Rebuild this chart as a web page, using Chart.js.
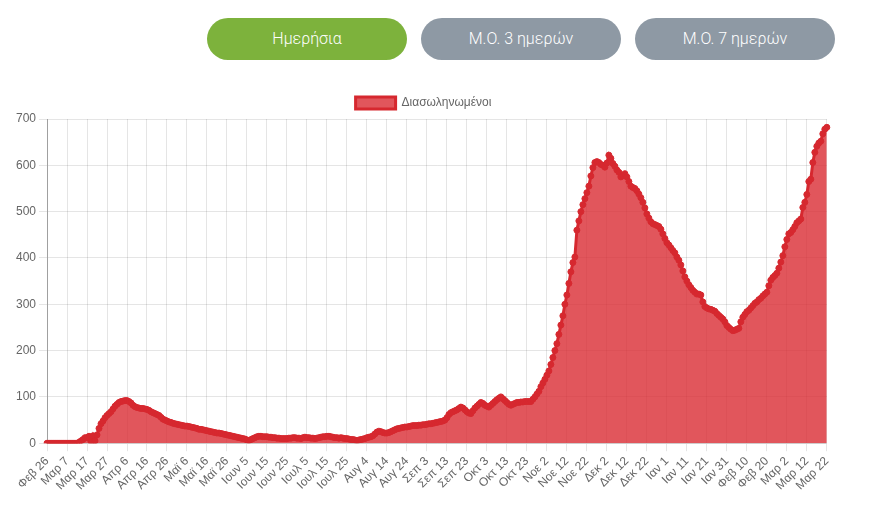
<!DOCTYPE html>
<html>
<head>
<meta charset="utf-8">
<script src="https://cdn.jsdelivr.net/npm/chart.js@4.4.1/dist/chart.umd.min.js"></script>
<style>
  body { margin: 0; width: 880px; height: 529px; background: #fff; overflow: hidden; position: relative; }
  .btn {
    position: absolute; top: 18px; width: 200px; height: 42px; border-radius: 21px;
    color: #fff; font-family: Roboto, sans-serif; font-size: 16px; font-weight: 300;
    line-height: 42px; text-align: center;
  }
  .btn.active { background: #7db23c; }
  .btn.off { background: #8e99a4; }
  #wrap { position: absolute; left: 0; top: 87px; width: 840px; height: 409px; }
</style>
</head>
<body>
<div class="btn active" style="left:207px">Ημερήσια</div>
<div class="btn off" style="left:421px">Μ.Ο. 3 ημερών</div>
<div class="btn off" style="left:635px">Μ.Ο. 7 ημερών</div>
<div id="wrap"><canvas id="chart"></canvas></div>
<script>
// --- data ---
const monthNames = ['Ιαν', 'Φεβ', 'Μαρ', 'Απρ', 'Μαϊ', 'Ιουν', 'Ιουλ', 'Αυγ', 'Σεπ', 'Οκτ', 'Νοε', 'Δεκ'];
const startDay = [2020, 1, 26]; // Φεβ 26
const seriesName = 'Διασωληνωμένοι';
const yTicks = [0, 100, 200, 300, 400, 500, 600, 700];

// one row per 10 days, starting Φεβ 26 2020
const intubated = [
  0, 0, 0, 0, 0, 0, 0, 0, 0, 0,
  0, 0, 0, 0, 0, 0, 2, 5, 8, 12,
  12, 15, 4, 16, 5, 18, 32, 42, 48, 55,
  60, 64, 68, 74, 80, 84, 88, 90, 91, 92,
  92, 90, 87, 82, 79, 77, 76, 75, 75, 74,
  73, 71, 68, 66, 64, 62, 60, 56, 52, 50,
  48, 46, 45, 43, 42, 41, 40, 39, 38, 37,
  37, 36, 35, 34, 33, 32, 30, 30, 29, 28,
  27, 26, 25, 24, 23, 22, 22, 21, 20, 19,
  18, 17, 16, 15, 14, 13, 12, 11, 10, 9,
  7, 6, 8, 10, 12, 14, 15, 15, 14, 14,
  14, 13, 13, 12, 12, 11, 11, 10, 10, 10,
  10, 11, 11, 12, 12, 11, 11, 10, 12, 13,
  12, 12, 11, 11, 10, 11, 12, 13, 14, 14,
  15, 15, 14, 13, 12, 12, 11, 12, 11, 10,
  10, 9, 8, 8, 7, 6, 7, 8, 9, 10,
  12, 13, 14, 16, 20, 24, 26, 25, 23, 22,
  22, 23, 25, 27, 29, 31, 32, 33, 34, 35,
  35, 36, 37, 38, 38, 38, 39, 39, 40, 40,
  41, 42, 42, 43, 44, 45, 46, 47, 48, 50,
  55, 62, 66, 68, 70, 72, 75, 78, 76, 72,
  68, 65, 64, 70, 76, 80, 84, 88, 86, 82,
  80, 78, 82, 86, 90, 94, 97, 100, 96, 92,
  88, 84, 82, 84, 86, 88, 88, 89, 89, 90,
  90, 90, 90, 95, 100, 106, 112, 122, 130, 138,
  147, 156, 170, 185, 200, 215, 235, 255, 275, 300,
  320, 345, 370, 390, 402, 460, 480, 500, 515, 528,
  541, 555, 577, 595, 606, 608, 606, 602, 600, 596,
  605, 622, 615, 604, 598, 590, 585, 575, 578, 582,
  575, 565, 555, 552, 550, 545, 538, 530, 520, 508,
  495, 486, 478, 474, 472, 470, 468, 462, 452, 442,
  433, 428, 422, 416, 411, 402, 395, 385, 372, 359,
  350, 342, 336, 330, 326, 322, 322, 320, 305, 295,
  292, 290, 289, 287, 285, 280, 276, 272, 268, 262,
  254, 250, 246, 243, 244, 246, 248, 262, 272, 278,
  284, 287, 292, 297, 302, 305, 310, 313, 318, 322,
  326, 340, 352, 358, 362, 367, 378, 391, 405, 424,
  440, 452, 455, 461, 468, 476, 480, 484, 509, 520,
  537, 565, 570, 606, 628, 641, 648, 652, 668, 678,
  682
];

// daily labels "Μαρ 7" etc.
const labels = intubated.map((v, i) => {
  const d = new Date(startDay[0], startDay[1], startDay[2] + i);
  return monthNames[d.getMonth()] + ' ' + d.getDate();
});

const lineColor = 'rgb(214,40,47)';
const fillColor = 'rgba(216,38,46,0.78)';

new Chart(document.getElementById('chart'), {
  type: 'line',
  data: {
    labels: labels,
    datasets: [{
      label: seriesName,
      data: intubated,
      borderColor: lineColor,
      backgroundColor: fillColor,
      fill: true,
      borderWidth: 3,
      pointRadius: 3,
      pointBorderWidth: 1,
      pointBackgroundColor: lineColor,
      pointBorderColor: lineColor,
      tension: 0
    }]
  },
  options: {
    responsive: true,
    maintainAspectRatio: false,
    animation: false,
    layout: { padding: { left: 13, right: 6 } },
    plugins: {
      legend: {
        labels: {
          boxWidth: 40, boxHeight: 12, color: '#666',
          font: { family: 'Arial, "Liberation Sans", sans-serif', size: 12 }
        }
      },
      tooltip: { enabled: false }
    },
    scales: {
      x: {
        grid: { color: 'rgba(0,0,0,0.1)' },
        border: { color: 'rgba(0,0,0,0.1)' },
        ticks: {
          autoSkip: false, minRotation: 45, maxRotation: 45, color: '#666',
          font: { family: 'Arial, "Liberation Sans", sans-serif', size: 12 },
          callback: function (val, idx) { return idx % 10 === 0 ? labels[idx] : null; }
        }
      },
      y: {
        min: yTicks[0], max: yTicks[yTicks.length - 1],
        grid: { color: 'rgba(0,0,0,0.1)' },
        border: { color: 'rgba(0,0,0,0.3)' },
        afterBuildTicks: function (axis) { axis.ticks = yTicks.map(v => ({ value: v })); },
        ticks: {
          color: '#666',
          font: { family: 'Arial, "Liberation Sans", sans-serif', size: 12 }
        }
      }
    }
  }
});
</script>
</body>
</html>
